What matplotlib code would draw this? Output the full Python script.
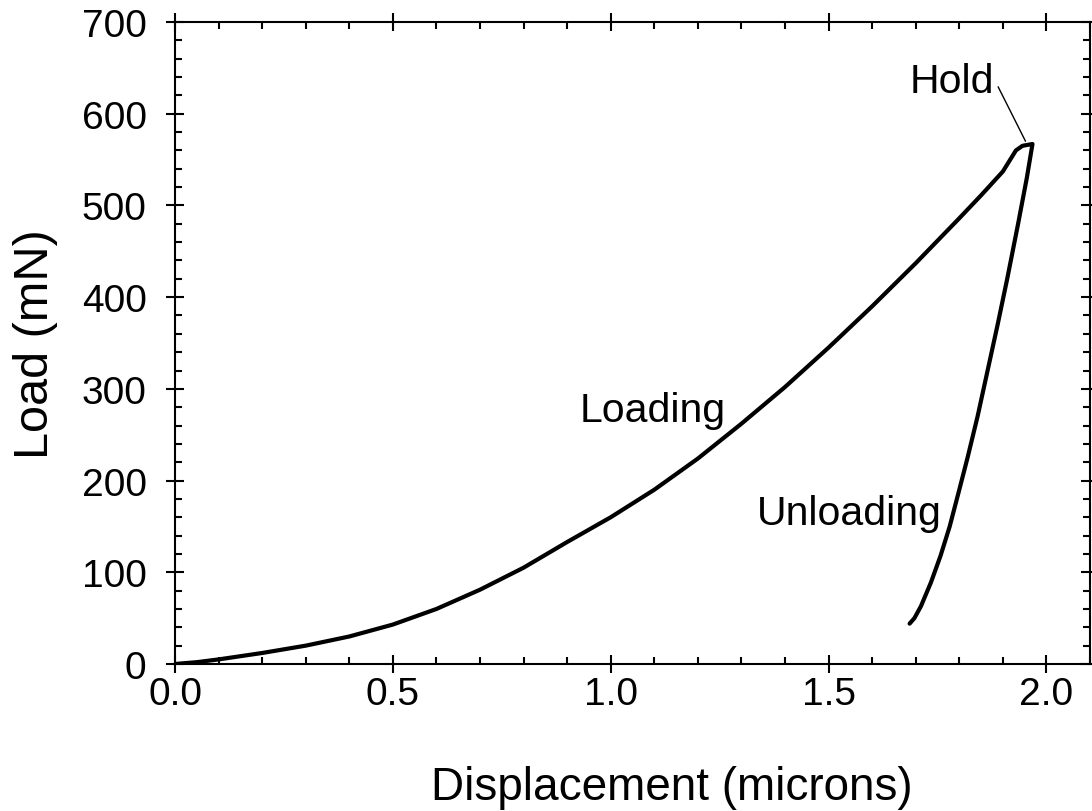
import matplotlib
matplotlib.use("Agg")
import matplotlib.pyplot as plt
from matplotlib.ticker import MultipleLocator, FormatStrFormatter

plt.rcParams["font.family"] = ["Liberation Sans", "DejaVu Sans"]

# loading segment (displacement in microns, load in mN)
load_x = [0.00, 0.05, 0.10, 0.20, 0.30, 0.40, 0.50, 0.60, 0.70, 0.80, 0.90,
          1.00, 1.10, 1.20, 1.30, 1.40, 1.50, 1.60, 1.70, 1.80, 1.85, 1.90, 1.93]
load_y = [0, 2, 5, 12, 20, 30, 43, 60, 81, 105, 133,
          160, 190, 224, 262, 302, 345, 390, 437, 486, 511, 537, 560]

# hold at peak load
hold_x = [1.93, 1.945, 1.968]
hold_y = [560, 565, 567]

# unloading segment
unload_x = [1.968, 1.955, 1.935, 1.910, 1.888, 1.865, 1.842, 1.819, 1.800,
            1.778, 1.757, 1.735, 1.712, 1.697, 1.686]
unload_y = [567, 530, 480, 420, 370, 320, 270, 225, 190,
            150, 118, 89, 63, 50, 44]

fig = plt.figure(figsize=(10.92, 8.12), dpi=100)
ax = fig.add_axes([175 / 1092, 1 - 665 / 812, 915 / 1092, 642 / 812])

ax.plot(load_x + hold_x[1:] + unload_x[1:], load_y + hold_y[1:] + unload_y[1:],
        color="black", lw=3, solid_joinstyle="round", solid_capstyle="round")

ax.set_xlim(0, 2.1)
ax.set_ylim(0, 700)
ax.xaxis.set_major_locator(MultipleLocator(0.5))
ax.xaxis.set_minor_locator(MultipleLocator(0.1))
ax.yaxis.set_major_locator(MultipleLocator(100))
ax.yaxis.set_minor_locator(MultipleLocator(20))
ax.xaxis.set_major_formatter(FormatStrFormatter("%.1f"))

ax.tick_params(which="major", direction="inout", length=13, width=1.5,
               top=True, right=True, labelsize=28)
ax.tick_params(axis="x", which="major", pad=2)
ax.tick_params(axis="y", which="major", pad=14)
ax.tick_params(which="minor", direction="in", length=5, width=1.5,
               top=True, right=True)
for s in ax.spines.values():
    s.set_linewidth(1.5)

ax.set_xlabel("Displacement (microns)", fontsize=33, labelpad=38)
ax.xaxis.label.set_x(0.543)
ax.set_ylabel("Load (mN)", fontsize=35, labelpad=17)

ax.text(0.929, 265, "Loading", fontsize=29.5, ha="left", va="baseline")
ax.text(1.335, 153, "Unloading", fontsize=29.5, ha="left", va="baseline")
ax.annotate("Hold", xy=(1.952, 570), xytext=(1.686, 624), fontsize=29.5,
            ha="left", va="baseline",
            arrowprops=dict(arrowstyle="-", color="black", lw=1,
                            relpos=(1, 0.55), shrinkA=2, shrinkB=0))

fig.savefig("out.png", dpi=100)
